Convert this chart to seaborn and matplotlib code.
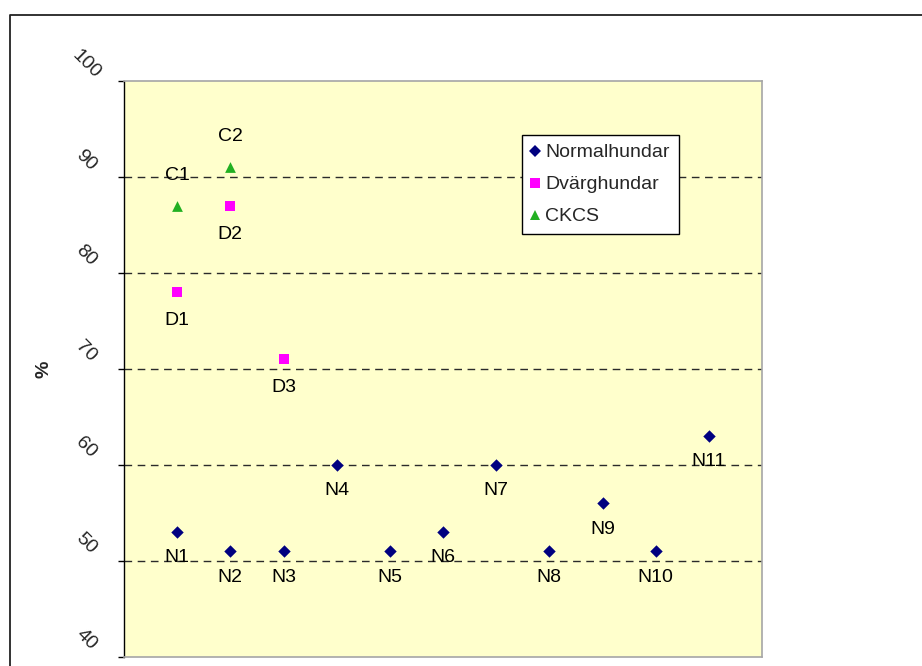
import pandas as pd
import matplotlib.pyplot as plt
from matplotlib.lines import Line2D
from matplotlib.transforms import ScaledTranslation
import seaborn as sns

# data
normal_labels = ['N1', 'N2', 'N3', 'N4', 'N5', 'N6', 'N7', 'N8', 'N9', 'N10', 'N11']
normal_x = [1, 2, 3, 4, 5, 6, 7, 8, 9, 10, 11]
normal_y = [53, 51, 51, 60, 51, 53, 60, 51, 56, 51, 63]

dwarf_labels = ['D1', 'D2', 'D3']
dwarf_x = [1, 2, 3]
dwarf_y = [78, 87, 71]

ckcs_labels = ['C1', 'C2']
ckcs_x = [1, 2]
ckcs_y = [87, 91]

groups = ['Normalhundar', 'Dvärghundar', 'CKCS']
y_ticks = [40, 50, 60, 70, 80, 90, 100]

colors = {'Normalhundar': '#000080', 'Dvärghundar': '#FF00FF', 'CKCS': '#22B022'}
markers = {'Normalhundar': 'D', 'Dvärghundar': 's', 'CKCS': '^'}
sizes = {'Normalhundar': 40, 'Dvärghundar': 45, 'CKCS': 60}
label_offset = {'Normalhundar': -18.5, 'Dvärghundar': -20.5, 'CKCS': 22}

FS = 14

df = pd.concat([
    pd.DataFrame({'x': normal_x, 'y': normal_y, 'lab': normal_labels, 'grupp': groups[0]}),
    pd.DataFrame({'x': dwarf_x, 'y': dwarf_y, 'lab': dwarf_labels, 'grupp': groups[1]}),
    pd.DataFrame({'x': ckcs_x, 'y': ckcs_y, 'lab': ckcs_labels, 'grupp': groups[2]}),
], ignore_index=True)

sns.set_style("white")
plt.rcParams['font.family'] = ['Liberation Sans', 'DejaVu Sans']
plt.rcParams['font.size'] = FS

fig = plt.figure(figsize=(9.22, 6.66), dpi=100)
ax = fig.add_axes([124/922, 1-657/666, 638/922, 576/666])
ax.set_facecolor('#FFFFCC')

for g in groups:
    d = df[df.grupp == g]
    sns.scatterplot(data=d, x='x', y='y', color=colors[g], marker=markers[g],
                    s=sizes[g], linewidth=0, ax=ax, zorder=3, legend=False)
    for _, r in d.iterrows():
        ax.annotate(r['lab'], (r['x'], r['y']), xytext=(0, label_offset[g]),
                    textcoords='offset points', ha='center', va='center',
                    fontsize=FS, color='black', zorder=4)

ax.set_xlim(0, 12)
ax.set_ylim(40, 100)
ax.set_xticks([])
ax.set_yticks(y_ticks)
for yv in y_ticks[1:-1]:
    ax.axhline(yv, color='#2a2a2a', linestyle=(0, (5.5, 4)), linewidth=1, zorder=2)

ax.set_xlabel('')
ax.set_ylabel('%', fontsize=FS, fontweight='bold', rotation=90)
ax.yaxis.set_label_coords(-0.112, 0.5)

ax.tick_params(axis='y', direction='out', length=4.3, width=1, color='black',
               pad=23, labelsize=FS, left=True)
offset = ScaledTranslation(0, 0.17, fig.dpi_scale_trans)
for lbl in ax.get_yticklabels():
    lbl.set_rotation(-45)
    lbl.set_ha('center')
    lbl.set_va('center')
    lbl.set_transform(lbl.get_transform() + offset)

ax.spines['left'].set_color('black')
ax.spines['left'].set_linewidth(1)
for s in ['top', 'right', 'bottom']:
    ax.spines[s].set_color('#A6A6A6')
    ax.spines[s].set_linewidth(1.2)

handles = [Line2D([], [], linestyle='none', marker=markers[g], color=colors[g],
                  markersize=6.5 if g != 'CKCS' else 7.5, markeredgewidth=0)
           for g in groups]
leg = ax.legend(handles, groups, loc='upper left',
                bbox_to_anchor=(522/922, 1-135/666), bbox_transform=fig.transFigure,
                frameon=True, fancybox=False, edgecolor='black', framealpha=1,
                fontsize=FS, handlelength=0.45, handletextpad=0.3,
                labelspacing=0.74, borderpad=0.45, borderaxespad=0)
leg.get_frame().set_linewidth(1)

# outer chart-area border
fig.add_artist(Line2D([10/922, 10/922, 1], [0, 1-15/666, 1-15/666],
                      transform=fig.transFigure, color='#222222', linewidth=1.3))

fig.savefig('out.png', dpi=100)
